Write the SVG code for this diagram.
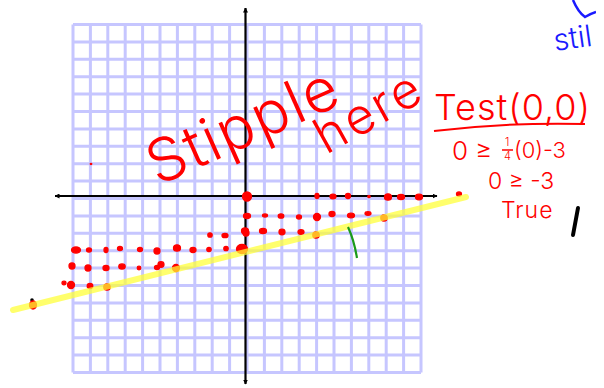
<svg xmlns="http://www.w3.org/2000/svg" width="604" height="388" viewBox="0 0 604 388">
<style>
.grid line{stroke:#c6c6ff;stroke-width:3}
.ax{stroke:#000;stroke-width:2.2;fill:none}
.d{fill:#ff0000;stroke:#ff0000;stroke-width:1.3}
.hw{fill:#ff0000;font-family:Inter,"Liberation Sans",sans-serif;font-weight:300}
</style>
<defs>
<marker id="ah" viewBox="0 0 10 10" refX="9" refY="5" markerWidth="5" markerHeight="5" orient="auto-start-reverse" markerUnits="userSpaceOnUse">
<path d="M0,0 L10,5 L0,10 z" fill="#000"/>
</marker>
<clipPath id="cr"><rect x="0" y="0" width="596" height="388"/></clipPath>
</defs>
<rect width="604" height="388" fill="#fff"/>
<g id="grid" class="grid">
<line x1="73" y1="24.5" x2="73" y2="372.5"/><line x1="90.4" y1="24.5" x2="90.4" y2="372.5"/><line x1="107.8" y1="24.5" x2="107.8" y2="372.5"/><line x1="125.2" y1="24.5" x2="125.2" y2="372.5"/><line x1="142.6" y1="24.5" x2="142.6" y2="372.5"/><line x1="160" y1="24.5" x2="160" y2="372.5"/><line x1="177.4" y1="24.5" x2="177.4" y2="372.5"/><line x1="194.8" y1="24.5" x2="194.8" y2="372.5"/><line x1="212.2" y1="24.5" x2="212.2" y2="372.5"/><line x1="229.6" y1="24.5" x2="229.6" y2="372.5"/><line x1="247" y1="24.5" x2="247" y2="372.5"/><line x1="264.4" y1="24.5" x2="264.4" y2="372.5"/><line x1="281.8" y1="24.5" x2="281.8" y2="372.5"/><line x1="299.2" y1="24.5" x2="299.2" y2="372.5"/><line x1="316.6" y1="24.5" x2="316.6" y2="372.5"/><line x1="334" y1="24.5" x2="334" y2="372.5"/><line x1="351.4" y1="24.5" x2="351.4" y2="372.5"/><line x1="368.8" y1="24.5" x2="368.8" y2="372.5"/><line x1="386.2" y1="24.5" x2="386.2" y2="372.5"/><line x1="403.6" y1="24.5" x2="403.6" y2="372.5"/><line x1="421" y1="24.5" x2="421" y2="372.5"/>
<line x1="73" y1="24.5" x2="421" y2="24.5"/><line x1="73" y1="41.9" x2="421" y2="41.9"/><line x1="73" y1="59.3" x2="421" y2="59.3"/><line x1="73" y1="76.7" x2="421" y2="76.7"/><line x1="73" y1="94.1" x2="421" y2="94.1"/><line x1="73" y1="111.5" x2="421" y2="111.5"/><line x1="73" y1="128.9" x2="421" y2="128.9"/><line x1="73" y1="146.3" x2="421" y2="146.3"/><line x1="73" y1="163.7" x2="421" y2="163.7"/><line x1="73" y1="181.1" x2="421" y2="181.1"/><line x1="73" y1="198.5" x2="421" y2="198.5"/><line x1="73" y1="215.9" x2="421" y2="215.9"/><line x1="73" y1="233.3" x2="421" y2="233.3"/><line x1="73" y1="250.7" x2="421" y2="250.7"/><line x1="73" y1="268.1" x2="421" y2="268.1"/><line x1="73" y1="285.5" x2="421" y2="285.5"/><line x1="73" y1="302.9" x2="421" y2="302.9"/><line x1="73" y1="320.3" x2="421" y2="320.3"/><line x1="73" y1="337.7" x2="421" y2="337.7"/><line x1="73" y1="355.1" x2="421" y2="355.1"/><line x1="73" y1="372.5" x2="421" y2="372.5"/>
</g>
<g id="axes">
<line class="ax" x1="245.5" y1="384" x2="245.5" y2="8" marker-end="url(#ah)" marker-start="url(#ah)"/>
<line class="ax" x1="55" y1="196" x2="437" y2="196" marker-end="url(#ah)" marker-start="url(#ah)"/>
</g>
<g id="dots">
<ellipse class="d" cx="91" cy="164" rx="0.8" ry="0.5"/>
<circle class="d" cx="247" cy="196.5" r="4.5"/>
<ellipse class="d" cx="317" cy="196" rx="2" ry="2.5"/><ellipse class="d" cx="333" cy="196.5" rx="3" ry="2.3"/><ellipse class="d" cx="348" cy="196" rx="2.5" ry="2.5"/><ellipse class="d" cx="369" cy="196.5" rx="1.2" ry="1.2"/><ellipse class="d" cx="388" cy="197" rx="3.5" ry="3.2"/><ellipse class="d" cx="401" cy="197" rx="3.5" ry="2.6"/><ellipse class="d" cx="419" cy="197" rx="3.5" ry="2.8"/><ellipse class="d" cx="459" cy="194" rx="2.5" ry="2"/>
<ellipse class="d" cx="247" cy="216" rx="3.5" ry="2.5"/><ellipse class="d" cx="265" cy="215.5" rx="2.5" ry="1.5"/><ellipse class="d" cx="281" cy="216" rx="2.8" ry="2.2"/><ellipse class="d" cx="299" cy="217" rx="2.5" ry="2"/><ellipse class="d" cx="317" cy="217" rx="3.5" ry="3.5"/><ellipse class="d" cx="332" cy="214" rx="3" ry="2.5"/><ellipse class="d" cx="351" cy="215.5" rx="3.5" ry="2.3"/><ellipse class="d" cx="368" cy="213.5" rx="3" ry="1.8"/><ellipse class="d" cx="384" cy="218" rx="3.2" ry="3"/>
<ellipse class="d" cx="245" cy="231" rx="3.5" ry="3"/><ellipse class="d" cx="263" cy="231" rx="3.5" ry="2.6"/><ellipse class="d" cx="282" cy="232" rx="3" ry="2.8"/><ellipse class="d" cx="301" cy="232" rx="3" ry="2.3"/><ellipse class="d" cx="316" cy="235" rx="3.2" ry="3.2"/>
<ellipse class="d" cx="210" cy="235" rx="2.2" ry="2.2"/><ellipse class="d" cx="225" cy="235.5" rx="3" ry="2.2"/><ellipse class="d" cx="246" cy="233" rx="3" ry="3"/>
<ellipse class="d" cx="76" cy="250" rx="4.5" ry="3"/><ellipse class="d" cx="89" cy="250" rx="2.5" ry="2"/><ellipse class="d" cx="106" cy="250" rx="2" ry="2.5"/><ellipse class="d" cx="120" cy="248.5" rx="2.5" ry="2"/><ellipse class="d" cx="140" cy="249.5" rx="2.5" ry="2"/><ellipse class="d" cx="157" cy="251" rx="3" ry="3"/><ellipse class="d" cx="177" cy="248" rx="3.5" ry="3.2"/><ellipse class="d" cx="193" cy="250" rx="3" ry="2.5"/><ellipse class="d" cx="209" cy="249.5" rx="2.2" ry="2"/><ellipse class="d" cx="226" cy="248.5" rx="2.2" ry="2.2"/><ellipse class="d" cx="242" cy="249" rx="5.5" ry="4.5"/>
<ellipse class="d" cx="72" cy="266" rx="3" ry="3"/><ellipse class="d" cx="88" cy="268" rx="3" ry="3"/><ellipse class="d" cx="106" cy="268" rx="3" ry="2.6"/><ellipse class="d" cx="122" cy="266.5" rx="3.2" ry="2.6"/><ellipse class="d" cx="139" cy="268" rx="1.8" ry="1.8"/><ellipse class="d" cx="157" cy="267.5" rx="2.5" ry="2"/><ellipse class="d" cx="161" cy="264.5" rx="3" ry="2.8"/><ellipse class="d" cx="176" cy="268" rx="3.5" ry="3.5"/>
<ellipse class="d" cx="64" cy="283" rx="2" ry="1.8"/><ellipse class="d" cx="71" cy="285" rx="3.5" ry="3.5"/><ellipse class="d" cx="90" cy="286" rx="2.8" ry="2.5"/><ellipse class="d" cx="107" cy="287" rx="3.2" ry="3.2"/>
<circle cx="32" cy="300" r="1.8" fill="#000"/><ellipse class="d" cx="33" cy="305" rx="3.5" ry="4"/>
</g>
<g id="boundary-line">
<line x1="13" y1="310" x2="466" y2="197" stroke="#ffff33" stroke-opacity="0.72" stroke-width="6" stroke-linecap="round"/>
</g>
<g id="stipple-label">
<text class="hw" font-size="60" letter-spacing="2" transform="translate(158,186) rotate(-24)">Stipple</text>
<text class="hw" font-size="50" letter-spacing="3" transform="translate(326,155) rotate(-29)">here</text>
</g>
<g id="test-work">
<text class="hw" font-size="36" letter-spacing="1" x="434" y="120">Test(0,0)</text>
<path d="M434,131 Q510,122 585,124" stroke="#ff0000" stroke-width="2" fill="none"/>
<text class="hw" font-size="26" x="452" y="160">0 ≥</text>
<text class="hw" font-size="11" x="505" y="146">1</text>
<line x1="502" y1="150" x2="513" y2="150" stroke="#ff0000" stroke-width="1.5"/>
<text class="hw" font-size="11" x="504" y="160">4</text>
<text class="hw" font-size="22" x="514" y="158">(0)-3</text>
<text class="hw" font-size="23" x="488" y="189">0 ≥ -3</text>
<text class="hw" font-size="23" letter-spacing="1" x="501" y="218">True</text>
</g>
<g id="marks">
<path d="M348,227 Q354,240 357,258" stroke="#1a9a1a" stroke-width="2.2" fill="none"/>
<path d="M578,208 L573,235" stroke="#000" stroke-width="4" stroke-linecap="round"/>
</g>
<g id="blue-note" clip-path="url(#cr)">
<path d="M573,0 Q578,12 585,17 Q590,14 596,12" stroke="#1a1aff" stroke-width="2.5" fill="none"/>
<text x="555" y="51" font-size="30" fill="#1a1aff" font-family="Inter,'Liberation Sans',sans-serif" font-weight="300" transform="rotate(-8 555 51)">stil</text>
</g>
</svg>
